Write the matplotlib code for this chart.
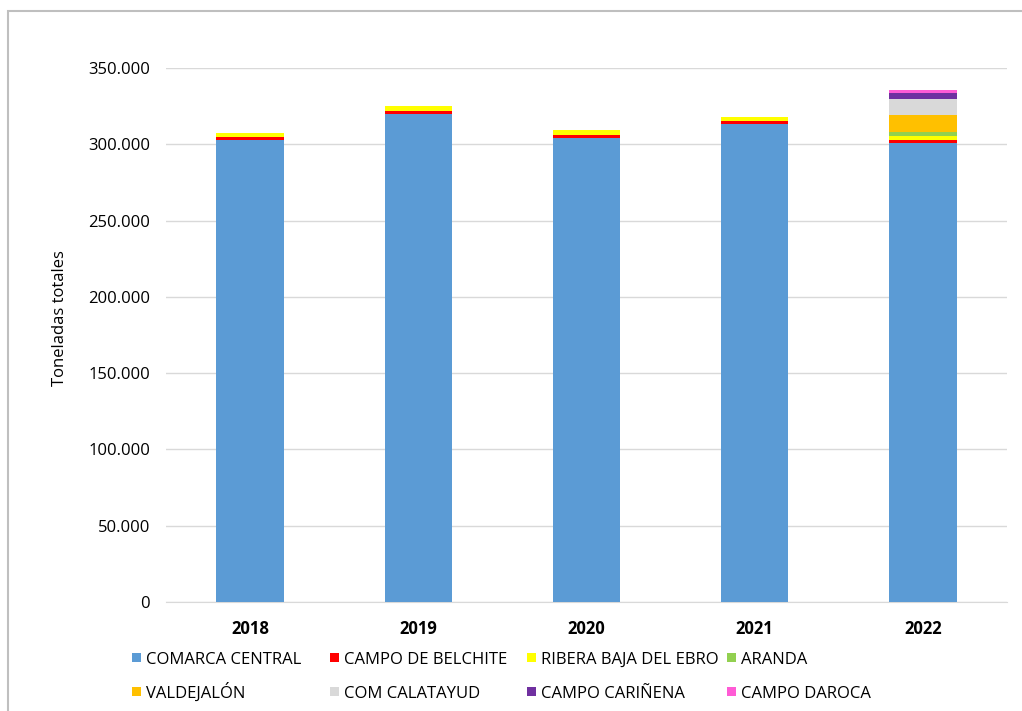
import matplotlib
matplotlib.use("Agg")
import matplotlib.pyplot as plt
import numpy as np
from matplotlib.ticker import FuncFormatter
from matplotlib.patches import Rectangle

years = ["2018", "2019", "2020", "2021", "2022"]
comarca_central = [303100, 319800, 304100, 313100, 300600]
campo_belchite = [1700, 2000, 1800, 2000, 2200]
ribera_baja = [2900, 3100, 3500, 2600, 2800]
aranda = [0, 0, 0, 0, 2600]
valdejalon = [0, 0, 0, 0, 10900]
com_calatayud = [0, 0, 0, 0, 10700]
campo_carinena = [0, 0, 0, 0, 3500]
campo_daroca = [0, 0, 0, 0, 2200]

series = [
    ("COMARCA CENTRAL", comarca_central, "#5B9BD5"),
    ("CAMPO DE BELCHITE", campo_belchite, "#FF0000"),
    ("RIBERA BAJA DEL EBRO", ribera_baja, "#FFFF00"),
    ("ARANDA", aranda, "#92D050"),
    ("VALDEJALÓN", valdejalon, "#FFC000"),
    ("COM CALATAYUD", com_calatayud, "#D9D9D9"),
    ("CAMPO CARIÑENA", campo_carinena, "#7030A0"),
    ("CAMPO DAROCA", campo_daroca, "#FF5BD5"),
]

W, H = 1022, 711
plt.rcParams['font.family'] = ['Open Sans', 'DejaVu Sans']
fig = plt.figure(figsize=(W / 100, H / 100), dpi=100)

# chart border (partially visible)
fig.patches.append(Rectangle((8 / W, -0.1), 1.2, (H - 11) / H + 0.1, transform=fig.transFigure,
                             fill=False, edgecolor="#BFBFBF", linewidth=1.5))

ax = fig.add_axes([166 / W, 1 - 602 / H, (1007 - 166) / W, (602 - 68) / H])
x = np.arange(len(years))
bottom = np.zeros(len(years))
for name, vals, col in series:
    v = np.array(vals, dtype=float)
    ax.bar(x, v, 0.4, bottom=bottom, color=col, label=name, zorder=3)
    bottom += v

ax.set_xlim(-0.5, len(years) - 0.5)
ax.set_ylim(0, 350000)
ax.set_yticks(np.arange(0, 350001, 50000))
ax.yaxis.set_major_formatter(FuncFormatter(lambda v, p: "0" if v == 0 else f"{int(v):,}".replace(",", ".")))
ax.set_xticks(x)
ax.set_xticklabels(years, fontweight="bold", fontsize=12)
ax.tick_params(axis="y", labelsize=12, length=0, pad=11.5)
ax.tick_params(axis="x", length=0, pad=13)
ax.grid(axis="y", color="#D9D9D9", linewidth=1, zorder=0)
for s in ["top", "right", "left"]:
    ax.spines[s].set_visible(False)
ax.spines["bottom"].set_color("#D9D9D9")
ax.set_ylabel("Toneladas totales", fontsize=12)
ax.yaxis.set_label_coords(-(166 - 68) / (1007 - 166), (602 - 318) / (602 - 68))

# legend drawn manually (row-major, 4 per row)
marker_x = [132, 330, 527, 727]
row_base = [664, 698]
msize = 9
for i, (name, _, col) in enumerate(series):
    r, c = divmod(i, 4)
    base = row_base[r]
    fig.patches.append(Rectangle((marker_x[c] / W, 1 - (base - 2) / H), msize / W, msize / H,
                                 transform=fig.transFigure, facecolor=col, edgecolor="none"))
    fig.text((marker_x[c] + msize + 5) / W, 1 - base / H, name, fontsize=12,
             ha="left", va="baseline")
plt.savefig("out.png", dpi=100)
